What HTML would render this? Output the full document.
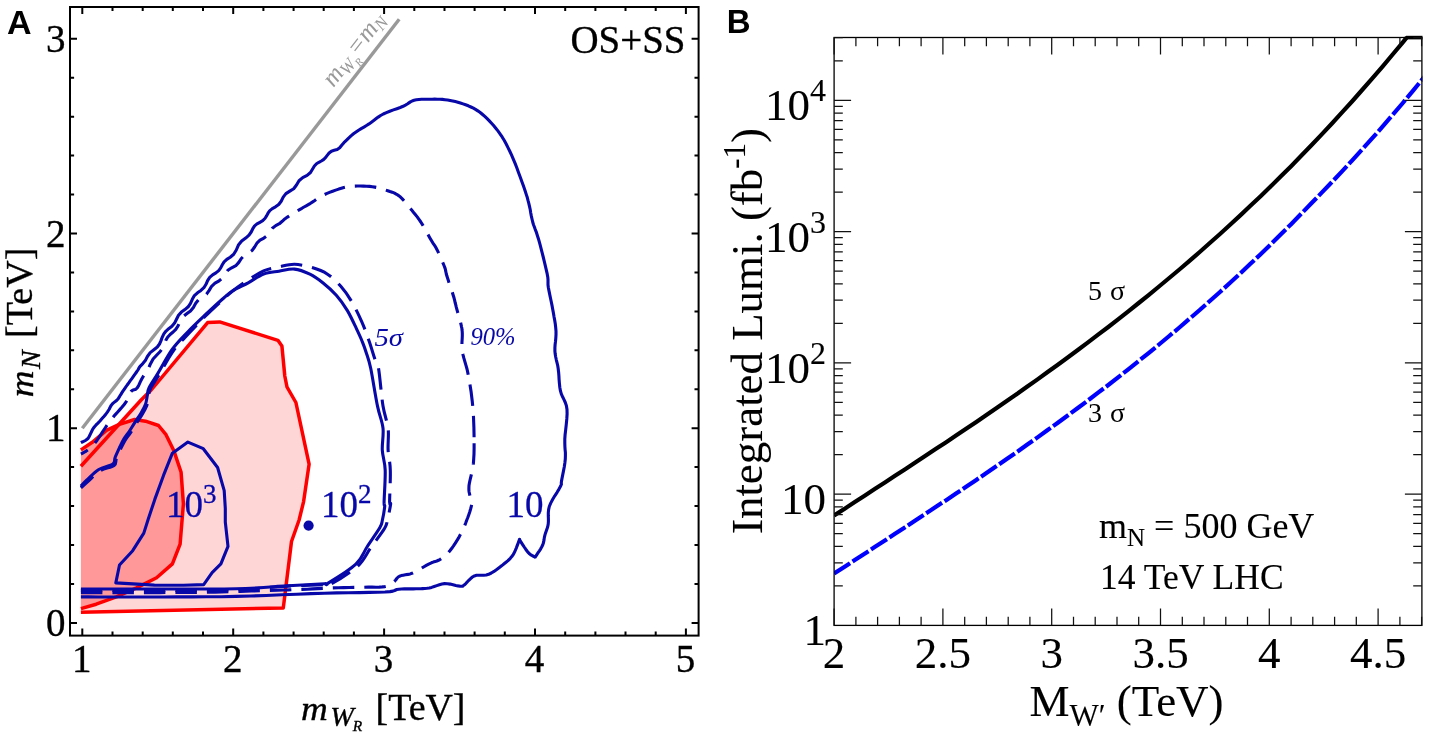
<!DOCTYPE html>
<html lang="en"><head><meta charset="utf-8"><title>Figure</title>
<style>
html,body{margin:0;padding:0;background:#fff;}
body{width:1429px;height:737px;overflow:hidden;}
svg{display:block;}
</style></head>
<body>
<svg width="1429" height="737" viewBox="0 0 1429 737">
<rect width="1429" height="737" fill="#fff"/>
<g id="panelA">
<path d="M80.9 466.2L141.1 400.0L151.2 390.0L207.6 322.6L219.7 321.9L277.9 340.3L281.9 345.9L284.8 376.0L287.0 387.0L295.9 402.5L309.1 464.2L303.6 501.6L299.1 520.0L291.5 541.5L283.3 607.9L80.9 612.3Z" fill="#ffd6d6"/>
<path d="M80.9 449.9L92.3 442.3L106.4 430.4L119.4 424.4L134.6 419.5L145.5 421.2L158.5 425.5L166.0 434.7L174.0 451.1L181.1 472.3L183.4 503.9L180.1 544.1L172.4 563.9L156.6 577.8L136.5 587.9L116.3 596.9L96.2 604.2L80.9 608.6Z" fill="#ff9999"/>
<path d="M80.9 466.2L141.1 400.0L151.2 390.0L207.6 322.6L219.7 321.9L277.9 340.3L281.9 345.9L284.8 376.0L287.0 387.0L295.9 402.5L309.1 464.2L303.6 501.6L299.1 520.0L291.5 541.5L283.3 607.9L80.9 612.3" fill="none" stroke="#ff0000" stroke-width="3.5" stroke-linejoin="round"/>
<path d="M80.9 449.9L92.3 442.3L106.4 430.4L119.4 424.4L134.6 419.5L145.5 421.2L158.5 425.5L166.0 434.7L174.0 451.1L181.1 472.3L183.4 503.9L180.1 544.1L172.4 563.9L156.6 577.8L136.5 587.9L116.3 596.9L96.2 604.2L80.9 608.6" fill="none" stroke="#ff0000" stroke-width="3.5" stroke-linejoin="round"/>
<line x1="82.3" y1="428.2" x2="399.2" y2="19.3" stroke="#999" stroke-width="3.4"/>
<path d="M80.9 442.6L81.7 442.2L82.8 441.8L84.1 441.2L85.4 440.5L86.7 439.6L87.9 438.5L88.9 437.1L89.8 435.3L90.7 433.4L91.6 431.5L92.5 429.6L93.5 428.0L94.5 426.7L95.6 425.5L96.6 424.4L97.7 423.4L98.8 422.2L100.0 421.0L101.2 419.6L102.5 418.1L103.9 416.5L105.2 414.9L106.4 413.4L107.5 411.9L108.4 410.5L109.2 409.2L109.9 407.8L110.5 406.6L111.2 405.4L112.0 404.3L112.9 403.4L113.8 402.6L114.7 401.9L115.6 401.3L116.6 400.5L117.5 399.5L118.4 398.4L119.2 397.1L120.0 395.8L120.9 394.4L121.8 392.9L122.9 391.2L124.2 389.3L125.7 387.2L127.2 385.0L128.8 382.8L130.3 380.7L131.7 378.8L132.9 377.1L134.1 375.4L135.2 373.9L136.2 372.5L137.1 371.2L137.9 370.0L138.4 369.2L138.6 368.8L138.6 368.6L138.9 368.2L139.4 367.3L140.6 365.8L142.8 363.6L145.3 360.6L147.4 356.5L150.2 352.6L153.9 349.7L157.3 347.0L159.5 344.0L161.0 340.6L162.2 337.3L163.7 334.1L165.8 331.3L168.7 328.7L171.9 326.2L174.6 323.1L176.5 319.2L178.5 315.3L181.4 312.1L184.9 309.6L188.2 306.8L190.5 303.3L192.3 299.3L194.4 295.6L197.5 292.8L200.9 290.4L203.9 287.7L206.0 284.3L207.6 280.6L209.7 277.4L212.6 274.9L215.9 272.9L218.7 270.6L220.7 267.9L222.3 264.8L224.1 261.9L226.8 259.4L230.2 257.2L233.7 254.3L236.3 250.0L238.4 245.1L241.7 241.1L245.7 238.1L249.0 235.2L251.2 232.0L252.8 228.7L254.6 225.9L257.0 223.9L259.9 222.3L262.7 220.7L264.9 218.5L266.6 215.9L268.0 213.2L269.8 210.6L272.3 208.6L275.5 206.8L278.7 204.5L281.2 201.2L283.2 197.1L285.9 193.6L289.8 191.1L293.7 188.7L296.5 185.0L299.0 180.7L302.7 177.6L307.1 175.4L310.5 172.5L312.6 169.0L314.4 166.0L316.5 163.8L318.9 162.3L321.3 161.0L323.5 159.6L325.5 157.7L327.2 155.4L329.1 153.0L331.4 151.2L334.2 150.3L337.2 149.5L339.7 147.7L341.7 145.2L343.9 142.7L346.3 140.4L348.6 138.1L351.0 135.9L353.5 133.8L356.0 132.0L358.6 130.2L361.2 128.6L363.9 127.1L366.5 125.5L369.0 123.9L371.4 122.2L373.7 120.5L375.9 118.8L378.2 117.1L380.6 115.5L383.3 114.0L386.4 112.6L389.8 111.2L393.4 109.9L396.9 108.7L400.2 107.5L403.1 106.3L405.4 105.1L407.3 104.0L408.9 102.9L410.4 101.9L412.1 101.0L414.1 100.3L416.4 99.8L418.9 99.5L421.6 99.3L424.3 99.3L427.0 99.2L429.6 99.2L432.2 99.2L434.7 99.1L437.3 99.2L439.9 99.3L442.4 99.4L445.0 99.7L447.6 100.0L450.1 100.5L452.7 101.0L455.3 101.6L457.8 102.2L460.4 103.0L463.0 103.9L465.6 104.8L468.3 105.8L470.9 107.0L473.4 108.2L475.9 109.6L478.2 111.1L480.5 112.7L482.6 114.5L484.8 116.4L486.9 118.4L489.1 120.6L491.3 123.0L493.6 125.5L495.8 128.2L498.1 131.1L500.2 134.1L502.3 137.2L504.3 140.5L506.2 144.0L508.0 147.6L509.8 151.3L511.6 155.2L513.3 159.2L515.1 163.4L516.9 168.0L518.6 172.7L520.3 177.3L521.9 181.7L523.3 185.6L524.5 189.0L525.5 192.1L526.4 194.9L527.3 197.6L528.0 200.4L528.8 203.3L529.5 206.4L530.2 209.5L530.7 212.7L531.3 215.9L532.0 219.0L532.7 222.0L533.5 224.7L534.4 227.0L535.2 229.3L536.2 231.8L537.2 234.9L538.4 238.7L539.8 243.7L541.4 249.9L543.1 256.5L544.7 263.1L546.1 269.1L547.2 273.9L547.8 277.3L548.0 279.6L548.0 281.4L548.0 282.9L548.0 284.7L548.3 287.2L548.9 290.4L549.6 293.9L550.4 297.7L551.2 301.5L552.0 305.4L552.7 309.2L553.4 312.9L554.0 316.6L554.7 320.3L555.3 324.0L555.7 327.7L556.0 331.2L556.0 334.7L555.8 338.1L555.5 341.4L555.1 344.7L554.9 347.9L554.9 351.1L555.2 354.1L555.7 357.0L556.3 359.8L557.0 362.6L557.7 365.5L558.2 368.7L558.6 372.2L558.9 375.8L559.1 379.6L559.4 383.4L559.8 387.2L560.4 390.7L561.3 393.9L562.6 396.8L564.0 399.6L565.3 402.5L566.4 405.7L567.0 409.4L567.1 413.8L566.8 418.9L566.3 424.2L565.7 429.6L565.1 434.7L564.8 439.2L564.8 443.1L564.9 446.5L565.1 449.6L565.4 452.6L565.4 455.7L565.3 459.0L564.9 462.7L564.3 466.8L563.5 470.9L562.7 474.9L562.0 478.4L561.5 481.1L561.3 482.8L561.3 483.6L561.4 484.0L561.4 484.3L561.1 485.0L560.4 486.6L559.0 489.1L557.1 492.3L554.8 495.8L552.6 499.5L550.7 503.1L549.3 506.5L548.6 509.6L548.3 512.8L548.3 515.9L548.4 518.8L548.4 521.6L548.2 524.1L547.8 526.3L547.2 528.3L546.6 530.1L546.0 531.8L545.4 533.4L544.9 535.1L544.5 536.8L544.2 538.5L544.0 540.1L543.7 541.7L543.3 543.3L542.7 545.0L541.8 546.8L540.7 548.8L539.4 550.8L538.1 552.7L537.0 554.4L536.2 555.6L535.7 556.4L535.4 556.8L535.3 557.0L535.2 557.0L535.2 556.9L535.0 556.9L534.8 556.9L534.7 557.0L534.6 556.9L534.4 556.8L534.1 556.6L533.6 556.3L533.0 556.0L532.2 555.6L531.4 555.2L530.5 554.6L529.5 553.8L528.4 552.7L527.2 551.2L525.7 549.2L524.2 547.0L522.8 544.8L521.5 542.8L520.6 541.4L520.0 540.5L519.8 539.9L519.7 539.5L519.7 539.3L519.7 539.3L519.6 539.3L519.5 539.3L519.5 539.3L519.4 539.5L519.4 539.9L519.1 540.5L518.7 541.6L518.1 543.2L517.3 545.4L516.4 547.8L515.3 550.4L514.2 552.8L513.0 554.9L511.8 556.6L510.5 558.1L509.2 559.5L507.7 560.9L506.0 562.3L504.1 563.8L501.9 565.6L499.4 567.5L496.7 569.5L494.0 571.4L491.3 573.0L488.7 574.3L486.2 575.0L483.7 575.2L481.2 575.2L478.8 575.2L476.5 575.3L474.4 575.9L472.4 577.0L470.6 578.6L468.8 580.3L467.2 582.0L465.8 583.6L464.5 584.7L463.6 585.4L463.0 585.9L462.6 586.2L462.2 586.3L461.4 586.3L460.1 586.2L458.2 585.9L455.8 585.4L453.0 584.7L450.2 584.1L447.3 583.7L444.6 583.6L442.0 584.0L439.4 584.7L436.8 585.6L434.2 586.5L431.6 587.4L429.2 588.0L426.9 588.3L424.8 588.5L422.7 588.6L420.6 588.7L418.4 588.7L416.0 588.8L413.3 588.9L410.4 588.9L407.4 588.9L404.4 588.9L401.5 589.0L398.8 589.2L396.8 589.5L395.7 590.0L394.6 590.5L392.9 591.1L390.0 591.6L385.0 592.0L377.9 592.3L369.3 592.4L359.4 592.6L348.4 592.7L336.7 592.9L324.4 593.2L311.2 593.6L296.9 594.2L281.8 594.8L266.3 595.5L250.9 596.0L236.0 596.4L221.3 596.7L206.5 596.8L191.8 596.9L177.3 596.9L163.3 597.0L150.0 597.0L136.7 597.0L123.2 597.0L110.1 597.0L98.2 597.0L88.2 596.9L80.9 596.9" fill="none" stroke="#0808a8" stroke-width="3.1" stroke-linejoin="round" stroke-linecap="butt"/>
<path d="M80.9 454.0L81.7 453.6L82.7 453.1L83.9 452.4L85.3 451.7L86.6 450.8L87.9 449.9L89.1 448.9L90.3 447.9L91.5 446.9L92.7 445.6L94.0 444.1L95.5 442.3L97.2 440.0L99.0 437.3L101.0 434.3L102.9 431.3L104.8 428.5L106.4 426.1L107.7 424.2L108.9 422.7L109.9 421.4L110.9 420.0L112.1 418.6L113.5 416.8L115.3 414.6L117.5 412.2L119.8 409.6L122.1 407.0L124.2 404.5L125.9 402.2L127.2 400.1L128.1 398.1L128.8 396.2L129.5 394.4L130.2 392.8L131.0 391.5L132.0 390.6L133.0 390.1L134.0 389.8L135.0 389.5L136.1 389.0L137.1 388.0L138.0 386.7L138.8 385.2L139.5 383.6L140.4 381.6L141.6 379.2L143.2 376.4L145.6 373.0L148.3 368.9L150.4 363.9L153.1 359.0L156.8 355.0L160.2 351.5L162.6 347.9L164.2 344.2L165.7 340.6L167.6 337.3L170.1 334.5L173.1 332.0L175.8 329.3L177.9 326.2L179.5 322.7L181.2 319.2L183.7 316.1L187.0 313.5L190.5 310.9L193.4 307.4L195.7 303.2L198.7 299.5L202.7 296.9L206.5 294.2L209.2 290.4L211.6 286.3L215.0 283.2L219.1 280.8L222.6 277.9L225.1 274.0L227.8 270.3L231.7 267.8L235.8 265.7L238.8 262.4L241.3 258.5L244.4 255.4L248.4 253.2L252.0 250.6L254.6 247.0L256.9 243.2L260.0 240.2L263.9 238.1L267.4 235.6L269.9 231.9L272.4 228.2L275.7 225.6L279.4 223.7L282.2 221.3L284.8 218.9L287.4 217.1L290.0 215.4L292.5 213.9L294.9 212.5L297.3 211.0L299.6 209.6L301.9 208.3L304.0 207.0L306.2 205.8L308.3 204.6L310.5 203.3L312.7 201.9L314.8 200.5L316.9 199.0L319.0 197.6L321.3 196.2L323.8 194.9L326.5 193.6L329.5 192.4L332.6 191.2L335.7 190.1L338.7 189.1L341.4 188.3L343.8 187.6L346.0 187.1L348.0 186.8L350.0 186.5L352.2 186.3L354.6 186.1L357.3 186.0L360.3 186.0L363.5 186.1L366.6 186.2L369.6 186.4L372.3 186.7L374.8 187.1L377.0 187.5L379.2 188.0L381.3 188.6L383.4 189.3L385.5 190.0L387.7 190.7L390.0 191.5L392.2 192.2L394.5 193.2L396.6 194.3L398.7 195.6L400.7 197.2L402.5 199.1L404.3 201.1L406.1 203.3L407.9 205.5L409.7 207.7L411.6 209.9L413.4 212.2L415.3 214.5L417.2 216.9L419.0 219.4L420.8 222.0L422.6 224.9L424.5 228.0L426.3 231.3L428.0 234.5L429.6 237.4L431.1 240.0L432.3 242.0L433.3 243.6L434.2 244.9L435.1 246.2L436.0 247.8L437.0 249.7L438.2 252.2L439.5 255.0L440.9 258.1L442.2 261.2L443.4 264.0L444.4 266.5L445.1 268.4L445.5 269.9L445.7 271.2L446.0 272.5L446.3 274.0L446.9 276.1L447.8 278.8L448.8 282.0L450.0 285.4L451.2 288.9L452.3 292.2L453.2 295.2L454.0 297.8L454.6 300.2L455.1 302.5L455.7 304.7L456.2 306.9L456.8 309.2L457.5 311.7L458.2 314.2L459.0 316.8L459.7 319.3L460.4 321.6L460.9 323.8L461.3 325.6L461.6 327.1L461.9 328.4L462.0 329.8L462.2 331.4L462.3 333.4L462.3 335.8L462.2 338.5L462.0 341.5L461.9 344.6L462.0 347.8L462.3 351.1L462.9 354.4L463.8 357.9L464.8 361.4L465.9 365.1L467.0 369.0L467.9 373.1L468.7 377.5L469.6 382.1L470.3 386.8L471.1 391.8L471.7 396.7L472.3 401.7L472.8 406.7L473.2 411.8L473.5 417.0L473.7 422.2L473.9 427.4L474.0 432.6L474.1 437.8L474.1 443.2" fill="none" stroke="#0808a8" stroke-width="3.1" stroke-linejoin="round" stroke-linecap="butt" stroke-dasharray="21.5 10" stroke-dashoffset="13.5"/>
<path d="M80.9 592.7L94.4 592.7L113.6 592.7L136.1 592.6L159.5 592.6L181.6 592.5L200.0 592.3L214.9 592.1L228.4 591.7L240.4 591.4L251.3 591.0L261.1 590.7L270.0 590.4L277.5 590.2L283.5 590.0L288.4 589.9L292.8 589.7L297.2 589.6L302.0 589.4L307.2 589.2L312.4 588.9L317.6 588.6L322.7 588.4L327.8 588.1L333.0 587.9L338.3 587.7L343.7 587.6L349.1 587.5L354.4 587.4L359.4 587.3L364.0 587.2L368.2 587.1L372.2 587.1L375.9 587.2L379.3 587.1L382.3 586.9L385.0 586.6L387.2 586.1L389.0 585.4L390.4 584.6L391.5 583.7L392.7 582.8L393.8 581.9L394.8 581.0L395.7 580.0L396.4 579.0L397.2 578.0L398.2 577.0L399.5 576.2L401.2 575.6L403.2 575.2L405.4 574.8L407.8 574.4L410.2 573.9L412.7 573.0L415.3 571.8L418.2 570.2L421.1 568.5L424.0 566.7L426.7 565.1L429.2 563.8L431.4 562.8L433.3 562.1L435.1 561.6L436.8 561.0L438.5 560.3L440.2 559.4L441.9 558.3L443.6 557.0L445.2 555.6L446.8 554.1L448.5 552.4L450.1 550.5L451.8 548.3L453.5 545.9L455.2 543.3L456.9 540.6L458.6 537.9L460.1 535.1L461.6 532.3L463.0 529.3L464.3 526.3L465.6 523.3L466.7 520.3L467.8 517.5L468.8 514.7L469.8 511.8L470.6 509.0L471.3 506.3L471.9 504.0L472.2 502.0L472.2 500.6L471.9 499.6L471.5 499.0L471.0 498.4L470.5 497.6L470.1 496.5L469.8 495.1L469.5 493.7L469.1 492.0L468.9 490.2L468.9 488.0L469.0 485.5L469.5 482.6L470.2 479.3L471.1 475.7L472.0 471.8L472.8 467.7L473.4 463.4L473.7 458.8L474.0 453.8L474.1 448.6L474.1 443.2" fill="none" stroke="#0808a8" stroke-width="3.1" stroke-linejoin="round" stroke-linecap="butt" stroke-dasharray="21.5 10"/>
<path d="M80.9 486.2C81.9 485.2 83.9 482.8 86.9 480.0C89.9 477.2 94.5 472.1 98.8 469.5C103.1 466.9 110.2 466.1 112.9 464.1C115.6 462.1 114.0 460.2 115.1 457.5C116.2 454.8 118.0 450.9 119.4 447.8C120.9 444.7 122.2 441.8 123.8 439.1C125.4 436.4 127.4 434.2 129.2 431.5C131.0 428.8 132.6 425.9 134.6 422.8C136.6 419.7 139.3 416.1 141.1 413.0C142.9 409.9 144.4 407.3 145.5 404.3C146.6 401.3 146.8 397.7 147.4 395.0C148.0 392.3 147.2 391.7 149.0 388.0C150.8 384.3 154.3 379.4 158.2 372.9C162.1 366.4 167.3 356.1 172.3 349.2C177.3 342.3 182.9 337.0 188.2 331.5C193.5 326.0 198.5 321.3 204.1 316.0C209.7 310.7 217.2 303.7 222.0 299.5C226.8 295.3 228.3 293.5 232.7 290.7C237.1 287.9 243.0 285.6 248.2 282.8C253.3 280.0 258.5 275.9 263.6 274.0C268.7 272.1 273.9 272.0 279.0 271.2C284.1 270.4 289.4 268.6 294.5 269.1C299.6 269.6 305.1 271.9 309.9 274.2C314.7 276.5 318.7 279.5 323.1 283.0C327.5 286.5 332.2 290.6 336.3 295.2C340.4 299.8 344.1 305.1 347.4 310.6C350.7 316.1 353.8 323.1 356.2 328.2C358.6 333.3 360.4 337.0 362.0 341.0C363.6 345.0 364.6 347.4 366.0 352.0C367.4 356.6 368.8 359.3 370.7 368.3C372.6 377.3 375.4 396.1 377.5 406.1C379.6 416.1 382.2 420.9 383.0 428.2C383.8 435.5 381.9 443.2 382.3 450.2C382.7 457.2 384.9 461.5 385.2 470.1C385.5 478.7 384.2 495.9 384.1 502.0C384.0 508.1 385.0 503.5 384.7 506.5C384.4 509.5 383.2 516.5 382.4 520.0C381.6 523.5 382.4 523.2 379.9 527.6C377.4 532.0 371.3 540.4 367.3 546.5C363.3 552.6 362.4 558.1 355.9 564.2C349.4 570.3 333.4 579.9 328.1 583.1C322.9 586.4 331.3 583.2 324.4 583.7C317.5 584.2 301.2 585.0 286.5 585.9C271.8 586.8 258.8 588.3 236.0 588.8C213.2 589.3 175.8 589.0 150.0 589.0C124.2 589.0 92.4 589.0 80.9 589.0" fill="none" stroke="#0808a8" stroke-width="3.1" stroke-linejoin="round" stroke-linecap="butt"/>
<path d="M80.9 590.5C92.4 590.5 124.2 590.6 150.0 590.5C175.8 590.4 217.3 590.2 236.0 589.8C254.7 589.4 253.6 588.6 262.0 588.0C270.4 587.4 276.2 586.9 286.5 586.3C296.8 585.7 316.7 584.9 324.0 584.6C331.3 584.3 324.7 587.6 330.3 584.5C335.9 581.4 351.1 572.1 357.8 566.0C364.5 559.9 366.1 554.2 370.5 548.0C374.9 541.8 381.7 533.2 384.5 528.5C387.3 523.8 386.5 524.0 387.5 520.0C388.5 516.0 390.2 507.2 390.6 504.2C391.0 501.2 389.7 507.7 389.6 502.0C389.6 496.3 390.6 478.7 390.3 470.1C390.1 461.5 388.5 457.2 388.1 450.2C387.7 443.2 389.0 435.5 388.1 428.2C387.2 420.9 384.6 416.0 383.0 406.1C381.4 396.2 379.9 376.2 378.6 368.7C377.4 361.2 377.1 365.6 375.5 361.0C373.9 356.4 371.3 347.4 369.0 340.8C366.7 334.2 364.6 328.1 361.7 321.6C358.8 315.1 355.3 307.7 351.8 301.8C348.3 295.9 344.9 290.9 340.8 286.3C336.8 281.7 332.3 277.3 327.5 274.2C322.7 271.1 317.6 269.2 312.1 267.6C306.6 266.0 300.0 264.4 294.5 264.3C289.0 264.2 284.1 265.8 279.0 266.9C273.9 268.0 268.7 268.7 263.6 270.9C258.5 273.1 253.3 276.7 248.2 280.0C243.1 283.3 237.3 287.4 233.0 290.7C228.7 294.0 227.2 295.7 222.5 300.0C217.8 304.3 210.5 311.0 205.0 316.5C199.5 322.0 194.6 327.1 189.4 332.8C184.1 338.5 178.5 343.6 173.5 350.5C168.5 357.4 163.3 367.7 159.4 374.2C155.5 380.7 152.0 385.6 150.2 389.3C148.4 393.0 149.2 393.6 148.6 396.3C148.0 399.0 147.8 402.6 146.7 405.6C145.6 408.6 144.1 411.2 142.3 414.3C140.5 417.4 137.8 421.0 135.8 424.1C133.8 427.2 132.2 430.1 130.4 432.8C128.6 435.5 126.6 437.7 125.0 440.4C123.4 443.1 122.1 446.0 120.6 449.1C119.2 452.2 117.4 456.1 116.3 458.8C115.2 461.5 116.8 463.4 114.1 465.4C111.4 467.4 104.3 468.2 100.0 470.8C95.7 473.4 91.3 478.5 88.1 481.3C84.9 484.1 82.1 486.7 80.9 487.8" fill="none" stroke="#0808a8" stroke-width="3.1" stroke-linejoin="round" stroke-linecap="butt" stroke-dasharray="21.5 10"/>
<path d="M172.4 453.2L187.9 442.1L203.3 448.7L217.6 467.5L224.2 490.6L225.3 508.3L225.3 522.0L228.0 546.3L220.9 563.9L212.1 572.7L203.7 584.6L183.4 585.2L154.4 585.1L115.8 582.9L119.5 565.0L132.7 550.7L143.8 533.1L148.2 519.3L154.8 499.4L163.6 475.2Z" fill="none" stroke="#0808a8" stroke-width="3.1" stroke-linejoin="round" stroke-linecap="butt"/>
<circle cx="308.6" cy="525.6" r="5.1" fill="#0808a8"/>
<rect x="70.0" y="7.0" width="628.6" height="628.6" fill="none" stroke="#000" stroke-width="2"/>
<path d="M82.3 635.6v-7.0M82.3 7.0v7.0M112.5 635.6v-4.1M112.5 7.0v4.1M142.7 635.6v-4.1M142.7 7.0v4.1M172.8 635.6v-4.1M172.8 7.0v4.1M203.0 635.6v-4.1M203.0 7.0v4.1M233.2 635.6v-7.0M233.2 7.0v7.0M263.4 635.6v-4.1M263.4 7.0v4.1M293.6 635.6v-4.1M293.6 7.0v4.1M323.7 635.6v-4.1M323.7 7.0v4.1M353.9 635.6v-4.1M353.9 7.0v4.1M384.1 635.6v-7.0M384.1 7.0v7.0M414.3 635.6v-4.1M414.3 7.0v4.1M444.5 635.6v-4.1M444.5 7.0v4.1M474.6 635.6v-4.1M474.6 7.0v4.1M504.8 635.6v-4.1M504.8 7.0v4.1M535.0 635.6v-7.0M535.0 7.0v7.0M565.2 635.6v-4.1M565.2 7.0v4.1M595.4 635.6v-4.1M595.4 7.0v4.1M625.5 635.6v-4.1M625.5 7.0v4.1M655.7 635.6v-4.1M655.7 7.0v4.1M685.9 635.6v-7.0M685.9 7.0v7.0M70.0 622.9h7.0M698.6 622.9h-7.0M70.0 584.0h4.1M698.6 584.0h-4.1M70.0 545.0h4.1M698.6 545.0h-4.1M70.0 506.1h4.1M698.6 506.1h-4.1M70.0 467.1h4.1M698.6 467.1h-4.1M70.0 428.2h7.0M698.6 428.2h-7.0M70.0 389.3h4.1M698.6 389.3h-4.1M70.0 350.3h4.1M698.6 350.3h-4.1M70.0 311.4h4.1M698.6 311.4h-4.1M70.0 272.4h4.1M698.6 272.4h-4.1M70.0 233.5h7.0M698.6 233.5h-7.0M70.0 194.6h4.1M698.6 194.6h-4.1M70.0 155.6h4.1M698.6 155.6h-4.1M70.0 116.7h4.1M698.6 116.7h-4.1M70.0 77.7h4.1M698.6 77.7h-4.1M70.0 38.8h7.0M698.6 38.8h-7.0" stroke="#000" stroke-width="2" fill="none"/>
<g style="font-family:'Liberation Serif','DejaVu Serif',serif" stroke="#000" stroke-width="0.35">
<text x="81.8" y="672.4" font-size="39" text-anchor="middle">1</text>
<text x="232.7" y="672.4" font-size="39" text-anchor="middle">2</text>
<text x="383.6" y="672.4" font-size="39" text-anchor="middle">3</text>
<text x="534.5" y="672.4" font-size="39" text-anchor="middle">4</text>
<text x="685.4" y="672.4" font-size="39" text-anchor="middle">5</text>
<text x="65.5" y="636.1" font-size="39" text-anchor="end">0</text>
<text x="65.5" y="441.4" font-size="39" text-anchor="end">1</text>
<text x="65.5" y="246.7" font-size="39" text-anchor="end">2</text>
<text x="65.5" y="52.0" font-size="39" text-anchor="end">3</text>
<text x="570.5" y="52.6" font-size="40.8" textLength="115" lengthAdjust="spacingAndGlyphs">OS+SS</text>
<text x="301" y="720.4" font-size="33.5" font-style="italic" textLength="26.8" lengthAdjust="spacingAndGlyphs">m</text>
<text x="330.2" y="725.6" font-size="26.5" font-style="italic" textLength="23.6" lengthAdjust="spacingAndGlyphs">W</text>
<text x="352.8" y="730.6" font-size="15.5" font-style="italic">R</text>
<text x="375.5" y="720.4" font-size="38" textLength="90" lengthAdjust="spacingAndGlyphs">[TeV]</text>
<g transform="translate(31.8 397) rotate(-90)">
<text x="-0.3" y="1.2" font-size="33.5" font-style="italic" textLength="26.8" lengthAdjust="spacingAndGlyphs">m</text>
<text x="28" y="8" font-size="28" font-style="italic">N</text>
<text x="59" y="0" font-size="38" textLength="90.5" lengthAdjust="spacingAndGlyphs">[TeV]</text>
</g>
</g>
<text transform="translate(333.4 88) rotate(-52.22)" font-size="25.2" fill="#999" font-style="italic" style="font-family:'Liberation Serif','DejaVu Serif',serif">m<tspan font-size="17.5" dy="4">W</tspan><tspan font-size="11" dy="4">R</tspan><tspan dy="-8">=m</tspan><tspan font-size="17.5" dy="4">N</tspan></text>
<g style="font-family:'Liberation Serif','DejaVu Serif',serif" fill="#0808a8" stroke="#0808a8" stroke-width="0.3">
<text x="166" y="517.3" font-size="37">10<tspan font-size="27" dy="-14.5">3</tspan></text>
<text x="321" y="517.3" font-size="37">10<tspan font-size="27" dy="-14.5">2</tspan></text>
<text x="506.5" y="517.3" font-size="37">10</text>
<text x="374.5" y="345.5" font-size="24.5" font-style="italic" stroke="none" textLength="28.5" lengthAdjust="spacingAndGlyphs">5σ</text>
<text x="470.5" y="345" font-size="24.6" font-style="italic" stroke="none">90%</text>
</g>
<text x="7" y="33.6" font-size="34" font-weight="bold" style="font-family:'Liberation Sans','DejaVu Sans',sans-serif">A</text>
</g>
<g id="panelB">
<clipPath id="rc"><rect x="834.1" y="36.3" width="588.3" height="589.1"/></clipPath>
<g clip-path="url(#rc)">
<path d="M834.1 573.5L844.3 566.9L854.4 560.3L864.6 553.7L874.7 547.1L884.9 540.5L895.0 533.8L905.2 527.2L915.3 520.5L925.5 513.8L935.6 507.1L945.8 500.4L956.0 493.6L966.1 486.8L976.3 479.9L986.4 473.0L996.6 466.0L1006.7 459.0L1016.9 452.0L1027.0 444.8L1037.2 437.6L1047.3 430.3L1057.5 423.0L1067.7 415.5L1077.8 408.0L1088.0 400.4L1098.1 392.7L1108.3 385.0L1118.4 377.1L1128.6 369.1L1138.7 361.0L1148.9 352.8L1159.0 344.5L1169.2 336.0L1179.4 327.5L1189.5 318.8L1199.7 310.0L1209.8 301.0L1220.0 292.0L1230.1 282.7L1240.3 273.4L1250.4 263.8L1260.6 254.2L1270.8 244.3L1280.9 234.3L1291.1 224.2L1301.2 213.8L1311.4 203.3L1321.5 192.9L1331.7 182.3L1341.8 171.6L1352.0 160.6L1362.1 149.5L1372.3 138.2L1382.5 126.6L1392.6 114.9L1402.8 103.0L1412.9 90.8L1423.1 78.4L1433.2 65.8L1443.4 53.0" fill="none" stroke="#0000ff" stroke-width="4.2" stroke-dasharray="19 3"/>
<path d="M834.1 515.5L844.3 508.9L854.4 502.3L864.6 495.7L874.7 489.1L884.9 482.5L895.0 475.8L905.2 469.2L915.3 462.5L925.5 455.8L935.6 449.1L945.8 442.4L956.0 435.6L966.1 428.8L976.3 421.9L986.4 415.0L996.6 408.0L1006.7 401.0L1016.9 394.0L1027.0 386.8L1037.2 379.6L1047.3 372.3L1057.5 365.0L1067.7 357.5L1077.8 350.0L1088.0 342.4L1098.1 334.7L1108.3 327.0L1118.4 319.1L1128.6 311.1L1138.7 303.0L1148.9 294.8L1159.0 286.5L1169.2 278.0L1179.4 269.5L1189.5 260.8L1199.7 252.0L1209.8 243.0L1220.0 234.0L1230.1 224.7L1240.3 215.4L1250.4 205.8L1260.6 196.2L1270.8 186.3L1280.9 176.3L1291.1 166.2L1301.2 155.8L1311.4 145.3L1321.5 134.6L1331.7 123.8L1341.8 112.7L1352.0 101.5L1362.1 90.0L1372.3 78.4L1382.5 66.6L1392.6 54.5L1402.8 42.3L1412.9 29.8L1423.1 17.1L1433.2 4.2L1443.4 -8.9" fill="none" stroke="#000" stroke-width="4.2"/>
</g>
<path d="M1406 37.6H1422.5" stroke="#000" stroke-width="3.6"/>
<rect x="834.1" y="37.5" width="587.8" height="587.9" fill="none" stroke="#000" stroke-width="1.3"/>
<path d="M834.1 625.4v-17.0M834.1 37.5v17.0M855.9 625.4v-8.7M855.9 37.5v8.7M877.6 625.4v-8.7M877.6 37.5v8.7M899.4 625.4v-8.7M899.4 37.5v8.7M921.1 625.4v-8.7M921.1 37.5v8.7M942.9 625.4v-17.0M942.9 37.5v17.0M964.7 625.4v-8.7M964.7 37.5v8.7M986.4 625.4v-8.7M986.4 37.5v8.7M1008.2 625.4v-8.7M1008.2 37.5v8.7M1029.9 625.4v-8.7M1029.9 37.5v8.7M1051.7 625.4v-17.0M1051.7 37.5v17.0M1073.5 625.4v-8.7M1073.5 37.5v8.7M1095.2 625.4v-8.7M1095.2 37.5v8.7M1117.0 625.4v-8.7M1117.0 37.5v8.7M1138.7 625.4v-8.7M1138.7 37.5v8.7M1160.5 625.4v-17.0M1160.5 37.5v17.0M1182.3 625.4v-8.7M1182.3 37.5v8.7M1204.0 625.4v-8.7M1204.0 37.5v8.7M1225.8 625.4v-8.7M1225.8 37.5v8.7M1247.5 625.4v-8.7M1247.5 37.5v8.7M1269.3 625.4v-17.0M1269.3 37.5v17.0M1291.1 625.4v-8.7M1291.1 37.5v8.7M1312.8 625.4v-8.7M1312.8 37.5v8.7M1334.6 625.4v-8.7M1334.6 37.5v8.7M1356.3 625.4v-8.7M1356.3 37.5v8.7M1378.1 625.4v-17.0M1378.1 37.5v17.0M1399.9 625.4v-8.7M1399.9 37.5v8.7M1421.6 625.4v-8.7M1421.6 37.5v8.7M834.1 585.9h8.7M1421.9 585.9h-8.7M834.1 562.8h8.7M1421.9 562.8h-8.7M834.1 546.4h8.7M1421.9 546.4h-8.7M834.1 533.6h8.7M1421.9 533.6h-8.7M834.1 523.3h8.7M1421.9 523.3h-8.7M834.1 514.5h8.7M1421.9 514.5h-8.7M834.1 506.9h8.7M1421.9 506.9h-8.7M834.1 500.1h8.7M1421.9 500.1h-8.7M834.1 494.1h17.0M1421.9 494.1h-17.0M834.1 454.6h8.7M1421.9 454.6h-8.7M834.1 431.5h8.7M1421.9 431.5h-8.7M834.1 415.1h8.7M1421.9 415.1h-8.7M834.1 402.4h8.7M1421.9 402.4h-8.7M834.1 392.0h8.7M1421.9 392.0h-8.7M834.1 383.2h8.7M1421.9 383.2h-8.7M834.1 375.6h8.7M1421.9 375.6h-8.7M834.1 368.9h8.7M1421.9 368.9h-8.7M834.1 362.9h17.0M1421.9 362.9h-17.0M834.1 323.3h8.7M1421.9 323.3h-8.7M834.1 300.2h8.7M1421.9 300.2h-8.7M834.1 283.8h8.7M1421.9 283.8h-8.7M834.1 271.1h8.7M1421.9 271.1h-8.7M834.1 260.7h8.7M1421.9 260.7h-8.7M834.1 251.9h8.7M1421.9 251.9h-8.7M834.1 244.3h8.7M1421.9 244.3h-8.7M834.1 237.6h8.7M1421.9 237.6h-8.7M834.1 231.6h17.0M1421.9 231.6h-17.0M834.1 192.1h8.7M1421.9 192.1h-8.7M834.1 169.0h8.7M1421.9 169.0h-8.7M834.1 152.6h8.7M1421.9 152.6h-8.7M834.1 139.8h8.7M1421.9 139.8h-8.7M834.1 129.4h8.7M1421.9 129.4h-8.7M834.1 120.7h8.7M1421.9 120.7h-8.7M834.1 113.0h8.7M1421.9 113.0h-8.7M834.1 106.3h8.7M1421.9 106.3h-8.7M834.1 100.3h17.0M1421.9 100.3h-17.0M834.1 60.8h8.7M1421.9 60.8h-8.7M834.1 37.7h8.7M1421.9 37.7h-8.7" stroke="#111" stroke-width="1.25" fill="none"/>
<g style="font-family:'Liberation Serif','DejaVu Serif',serif" stroke="#000" stroke-width="0.1">
<text x="834.1" y="668.2" font-size="45" text-anchor="middle">2</text>
<text x="942.9" y="668.2" font-size="45" text-anchor="middle">2.5</text>
<text x="1051.7" y="668.2" font-size="45" text-anchor="middle">3</text>
<text x="1160.5" y="668.2" font-size="45" text-anchor="middle">3.5</text>
<text x="1269.3" y="668.2" font-size="45" text-anchor="middle">4</text>
<text x="1378.1" y="668.2" font-size="45" text-anchor="middle">4.5</text>
<text x="826" y="645.1" font-size="45" text-anchor="end">1</text>
<text x="826" y="514.1" font-size="45" text-anchor="end">10</text>
<text x="826" y="382.9" font-size="45" text-anchor="end">10<tspan font-size="32" dy="-19">2</tspan></text>
<text x="826" y="251.6" font-size="45" text-anchor="end">10<tspan font-size="32" dy="-19">3</tspan></text>
<text x="826" y="120.3" font-size="45" text-anchor="end">10<tspan font-size="32" dy="-19">4</tspan></text>
<text x="1029.5" y="715.5" font-size="45">M<tspan font-size="31" dy="10.5">W′</tspan><tspan dy="-10.5"> (TeV)</tspan></text>
<text transform="translate(761.7 534) rotate(-90)" font-size="45" textLength="406" lengthAdjust="spacingAndGlyphs">Integrated Lumi. (fb<tspan font-size="31" dy="-17">-1</tspan><tspan dy="17">)</tspan></text>
<text x="1099" y="537.7" font-size="36">m<tspan font-size="25" dy="8.5">N</tspan><tspan dy="-8.5"> = 500 GeV</tspan></text>
<text x="1100" y="589.2" font-size="35.5">14 TeV LHC</text>
<text x="1088" y="299.6" font-size="28" word-spacing="1" stroke="none">5 σ</text>
<text x="1088" y="422" font-size="28" word-spacing="1" stroke="none">3 σ</text>
</g>
<text x="726.8" y="33.4" font-size="33" font-weight="bold" style="font-family:'Liberation Sans','DejaVu Sans',sans-serif">B</text>
</g>
</svg>
</body></html>
